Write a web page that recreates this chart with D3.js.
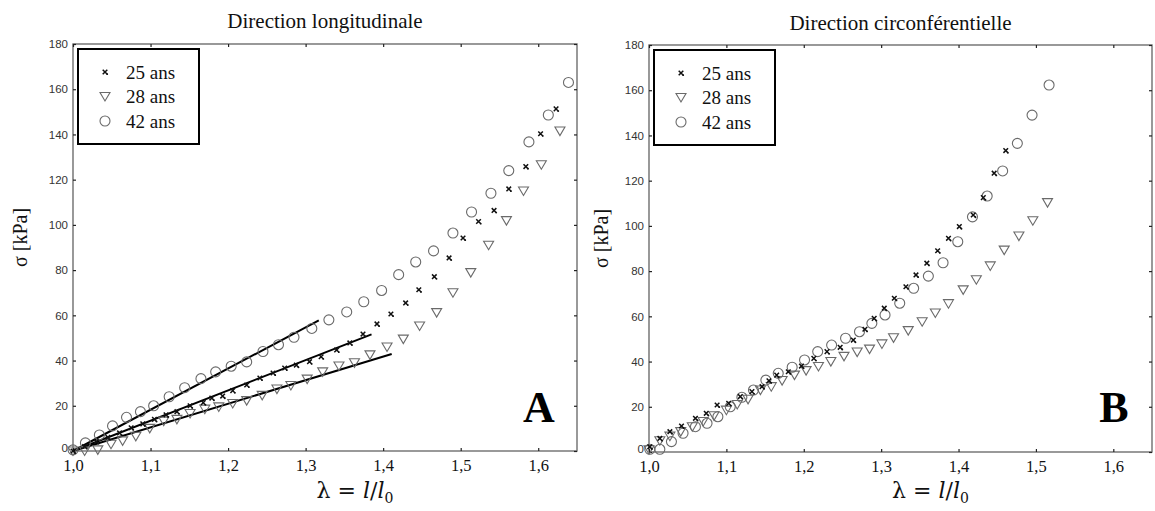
<!DOCTYPE html>
<html><head><meta charset="utf-8">
<script src="https://cdn.jsdelivr.net/npm/d3@7"></script>
<style>body{margin:0;background:#fff}svg{display:block}</style>
</head><body>
<svg id="c" width="1155" height="511"></svg>
<script>
// ---------- data ----------
const xTicks = [1.0, 1.1, 1.2, 1.3, 1.4, 1.5, 1.6];
const xTickLabels = ["1,0", "1,1", "1,2", "1,3", "1,4", "1,5", "1,6"];
const yTicks = [0, 20, 40, 60, 80, 100, 120, 140, 160, 180];
const seriesNames = ["25 ans", "28 ans", "42 ans"];
const titles = ["Direction longitudinale", "Direction circonférentielle"];
const panelLetters = ["A", "B"];

// Panel A (longitudinal)
const a25x = [1.000,1.015,1.030,1.045,1.060,1.075,1.090,1.105,1.120,1.134,1.151,1.168,1.179,1.193,1.206,1.224,1.241,1.258,1.273,1.288,1.305,1.320,1.340,1.357,1.374,1.392,1.410,1.429,1.446,1.466,1.485,1.503,1.523,1.543,1.562,1.584,1.603,1.623];
const a25y = [0,2,4.2,6,8,10.3,12,14,16,17.4,20,21.4,23.4,24.3,26.7,29.2,32.3,34.5,36.7,38,39.5,41.7,44.7,47.8,51.7,56.2,60.6,65.5,71.3,77.1,85.4,94.2,101.5,106.4,115.9,125.8,140.3,151.3];
const a28x = [1.000,1.015,1.032,1.049,1.064,1.081,1.099,1.117,1.134,1.151,1.170,1.188,1.206,1.224,1.244,1.263,1.281,1.302,1.322,1.343,1.363,1.383,1.405,1.426,1.447,1.469,1.490,1.513,1.536,1.559,1.581,1.604,1.628];
const a28y = [0,0,0.5,3,4.5,6.5,10,13.2,14,16.6,18.5,19.5,21,22.3,24.6,27.4,29,31.8,35,37.6,39,42.5,46,49.5,55.3,61.2,70,78.9,91,101.9,115,126.6,141.5];
const a42x = [1.000,1.016,1.034,1.051,1.069,1.087,1.104,1.124,1.144,1.165,1.184,1.204,1.224,1.245,1.265,1.285,1.308,1.330,1.353,1.375,1.398,1.420,1.442,1.465,1.490,1.514,1.539,1.562,1.588,1.613,1.639];
const a42y = [0.5,3.6,7.1,11.1,14.9,17.4,20,24,28,32,35,37.5,39.4,44,47,50.3,54.2,58,61.5,66,71,78,83.6,88.5,96.4,105.7,114,124,136.7,148.6,163];
// linear fits in panel A: [x0, y0, x1, y1]
const fit25 = [1.0, 0, 1.385, 51.6];
const fit28 = [1.0, 0, 1.411, 42.9];
const fit42 = [1.0, 0, 1.317, 57.8];

// Panel B (circumferential)
const b25x = [1.001,1.014,1.027,1.042,1.060,1.074,1.088,1.103,1.118,1.133,1.146,1.155,1.165,1.180,1.197,1.213,1.230,1.247,1.264,1.279,1.291,1.304,1.317,1.332,1.345,1.359,1.373,1.387,1.401,1.419,1.432,1.446,1.461];
const b25y = [2.3,6,9,11.5,14.9,17.1,20.8,21.5,24.5,26.7,28.9,31.5,34,35.5,38,41.4,44.4,46.3,49.5,54.3,59.1,63.6,68,73.1,78.3,83.5,89,94.5,99.7,104.8,112.5,123.3,133.3];
const b28x = [1.000,1.014,1.027,1.041,1.056,1.070,1.084,1.100,1.114,1.128,1.144,1.158,1.172,1.188,1.203,1.219,1.235,1.252,1.269,1.285,1.301,1.316,1.335,1.353,1.370,1.387,1.406,1.423,1.441,1.459,1.478,1.496,1.515];
const b28y = [1,5,7,9,11.2,13.5,16,18.5,21,23.3,27.4,28.9,31.6,34,36,37.8,40,42.3,44.2,45.5,47.8,50.5,53.7,57.6,61.5,65.6,71.7,76.2,82.3,89.3,95.5,102.3,110.3];
const b42x = [1.001,1.014,1.029,1.044,1.060,1.075,1.089,1.105,1.120,1.135,1.151,1.167,1.185,1.201,1.218,1.236,1.254,1.272,1.288,1.305,1.324,1.342,1.361,1.380,1.399,1.418,1.437,1.457,1.476,1.495,1.517];
const b42y = [1.2,1.2,4.6,8.3,11.2,12.7,15.6,20,24.2,27.4,31.8,34.8,37.5,40.7,44.4,47.3,50.3,53.2,56.9,60.6,65.8,72.4,77.8,83.7,93,104,113.2,124.3,136.5,149,162.3];

// ---------- drawing ----------
const svg = d3.select("#c");
const zip = (xs, ys) => xs.map((x, i) => [x, ys[i]]);

const panels = [
  {left: 73, right: 577, top: 44, bottom: 451, title: titles[0], titleY: 28, letter: panelLetters[0],
   s25: zip(a25x, a25y), s28: zip(a28x, a28y), s42: zip(a42x, a42y), fits: [fit42, fit25, fit28], ylabX: 20},
  {left: 649, right: 1152, top: 45, bottom: 452, title: titles[1], titleY: 30, letter: panelLetters[1],
   s25: zip(b25x, b25y), s28: zip(b28x, b28y), s42: zip(b42x, b42y), fits: [], ylabX: 601}
];

const markerGray = "#6a6a6a";
const triPath = "M-5,-4 L5,-4 L0,4.5 Z";
const crossPath = "M-2.3,-2.3 L2.3,2.3 M2.3,-2.3 L-2.3,2.3";

function drawMarker(g, kind, x, y) {
  if (kind === "o") {
    g.append("circle").attr("cx", x).attr("cy", y).attr("r", 5)
      .attr("fill", "none").attr("stroke", markerGray).attr("stroke-width", 1.1);
  } else if (kind === "v") {
    g.append("path").attr("d", triPath).attr("transform", `translate(${x},${y})`)
      .attr("fill", "none").attr("stroke", markerGray).attr("stroke-width", 1.1);
  } else {
    g.append("path").attr("d", crossPath).attr("transform", `translate(${x},${y})`)
      .attr("fill", "none").attr("stroke", "#111").attr("stroke-width", 1.5);
    g.append("circle").attr("cx", x + 2.2).attr("cy", y + 2.2).attr("r", 0.9).attr("fill", "#111");
  }
}

panels.forEach(p => {
  const x = d3.scaleLinear().domain([1.0, 1.65]).range([p.left, p.right]);
  const y = d3.scaleLinear().domain([0, 180]).range([p.bottom, p.top]);
  const g = svg.append("g");

  // frame
  g.append("rect").attr("x", p.left).attr("y", p.top)
    .attr("width", p.right - p.left).attr("height", p.bottom - p.top)
    .attr("fill", "none").attr("stroke", "#6e6e6e").attr("stroke-width", 1.4);

  // axes (inward ticks)
  const axB = g.append("g").attr("transform", `translate(0,${p.bottom})`)
    .call(d3.axisBottom(x).tickValues(xTicks).tickSize(-3).tickFormat((d, i) => xTickLabels[i]));
  const axT = g.append("g").attr("transform", `translate(0,${p.top})`)
    .call(d3.axisTop(x).tickValues(xTicks).tickSize(-3).tickFormat(""));
  const axL = g.append("g").attr("transform", `translate(${p.left},0)`)
    .call(d3.axisLeft(y).tickValues(yTicks).tickSize(-3).tickFormat(d3.format("d")));
  const axR = g.append("g").attr("transform", `translate(${p.right},0)`)
    .call(d3.axisRight(y).tickValues(yTicks).tickSize(-3).tickFormat(""));
  [axB, axT, axL, axR].forEach(a => {
    a.select(".domain").remove();
    a.selectAll(".tick line").attr("stroke", "#222").attr("stroke-width", 1.2);
  });
  axB.selectAll(".tick text").attr("font-family", "'Liberation Serif', 'Times New Roman', serif")
    .attr("font-size", 16.5).attr("fill", "#111").attr("y", 8).attr("dy", "0.71em");
  axL.selectAll(".tick text").attr("font-family", "'Liberation Sans', Arial, sans-serif")
    .attr("font-size", 11.5).attr("fill", "#333").attr("x", -5)
    .attr("y", d => d === 0 ? -3 : 0);

  // fits
  p.fits.forEach(f => {
    g.append("line").attr("x1", x(f[0])).attr("y1", y(f[1])).attr("x2", x(f[2])).attr("y2", y(f[3]))
      .attr("stroke", "#000").attr("stroke-width", 2);
  });

  // data
  const gm = g.append("g");
  p.s42.forEach(d => drawMarker(gm, "o", x(d[0]), y(d[1])));
  p.s28.forEach(d => drawMarker(gm, "v", x(d[0]), y(d[1])));
  p.s25.forEach(d => drawMarker(gm, "x", x(d[0]), y(d[1])));

  // title
  g.append("text").attr("x", (p.left + p.right) / 2).attr("y", p.titleY)
    .attr("text-anchor", "middle").attr("font-family", "'Liberation Serif', 'Times New Roman', serif")
    .attr("font-size", 21).attr("fill", "#111").text(p.title);

  // x label
  const xl = g.append("text").attr("x", (p.left + p.right) / 2 + 30).attr("y", 498)
    .attr("text-anchor", "middle").attr("font-family", "'DejaVu Serif', 'Liberation Serif', serif")
    .attr("font-size", 22).attr("fill", "#111");
  xl.append("tspan").text("λ = ");
  xl.append("tspan").attr("font-style", "italic").text("l");
  xl.append("tspan").text("/");
  xl.append("tspan").attr("font-style", "italic").text("l");
  xl.append("tspan").attr("font-size", 14).attr("dy", 5).text("0");

  // y label
  g.append("text").attr("transform", `translate(${p.ylabX},${(p.top + p.bottom) / 2 - 10}) rotate(-90)`)
    .attr("text-anchor", "middle").attr("dy", "0.35em")
    .attr("font-family", "'Liberation Serif', 'Times New Roman', serif")
    .attr("font-size", 20).attr("fill", "#111").text("σ [kPa]");

  // letter
  g.append("text").attr("x", p.right - 38).attr("y", 422).attr("text-anchor", "middle")
    .attr("font-family", "'Liberation Serif', 'Times New Roman', serif").attr("font-weight", "bold")
    .attr("font-size", 44).attr("fill", "#000").text(p.letter);

  // legend
  const lg = g.append("g").attr("transform", `translate(${p.left + 5},${p.top + 5})`);
  lg.append("rect").attr("x", 0).attr("y", 0).attr("width", 121).attr("height", 95)
    .attr("fill", "#fff").attr("stroke", "#000").attr("stroke-width", 2);
  ["x", "v", "o"].forEach((k, i) => {
    const cy = 23 + i * 24.5;
    drawMarker(lg, k, 27, cy);
    lg.append("text").attr("x", 48).attr("y", cy).attr("dy", "0.35em")
      .attr("font-family", "'Liberation Serif', 'Times New Roman', serif")
      .attr("font-size", 19).attr("fill", "#111").text(seriesNames[i]);
  });
});
</script>
</body></html>
